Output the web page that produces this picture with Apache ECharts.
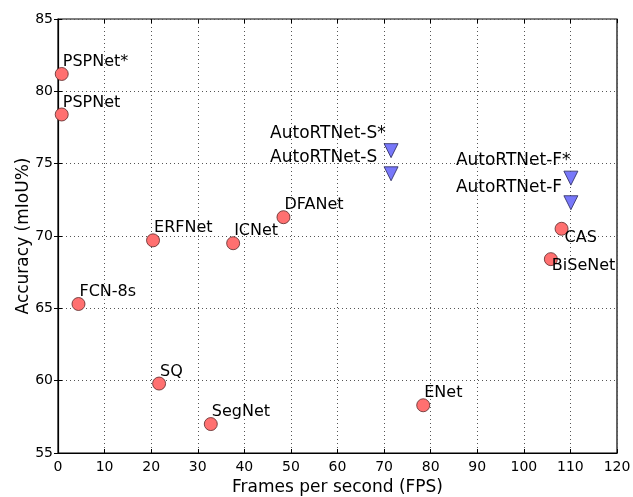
<!DOCTYPE html>
<html>
<head>
<meta charset="utf-8">
<script src="https://cdn.jsdelivr.net/npm/echarts@6/dist/echarts.min.js"></script>
<style>
  html, body { margin: 0; padding: 0; background: #fff; }
  #root { width: 633px; height: 497px; }
</style>
</head>
<body>
<div id="root"></div>
<script>
// other methods (circles)
const otherNames = ['PSPNet*', 'PSPNet', 'FCN-8s', 'ERFNet', 'ICNet', 'DFANet', 'SQ', 'SegNet', 'ENet', 'CAS', 'BiSeNet']
const otherFps = [0.8, 0.8, 4.4, 20.4, 37.6, 48.4, 21.7, 32.8, 78.4, 108.1, 105.8]
const otherMiou = [81.2, 78.4, 65.3, 69.7, 69.5, 71.3, 59.8, 57.0, 58.3, 70.5, 68.4]

// ours (triangles)
const autoNames = ['AutoRTNet-S*', 'AutoRTNet-S', 'AutoRTNet-F*', 'AutoRTNet-F']
const autoFps = [71.5, 71.5, 110.1, 110.1]
const autoMiou = [75.9, 74.3, 74.0, 72.3]

const xTicks = [0, 10, 20, 30, 40, 50, 60, 70, 80, 90, 100, 110, 120]
const yTicks = [55, 60, 65, 70, 75, 80, 85]

// where each label sits relative to its marker
const labelPlace = {
	'CAS': { align: 'left', verticalAlign: 'top', offset: [3, 1] },
	'BiSeNet': { align: 'left', verticalAlign: 'top', offset: [1, -1] },
	'AutoRTNet-S*': { align: 'left', verticalAlign: 'bottom', offset: [-121, -9] },
	'AutoRTNet-S': { align: 'left', verticalAlign: 'bottom', offset: [-121, -8] },
	'AutoRTNet-F*': { align: 'left', verticalAlign: 'bottom', offset: [-115, -9] },
	'AutoRTNet-F': { align: 'left', verticalAlign: 'bottom', offset: [-115, -7] }
}
const defaultPlace = { align: 'left', verticalAlign: 'bottom', offset: [1, -4] }

const FONT = 'DejaVu Sans'

const toPoints = (names, xs, ys) => names.map((name, i) => {
	const p = labelPlace[name] || defaultPlace
	return {
		name,
		value: [xs[i], ys[i]],
		label: {
			show: true,
			position: 'inside',
			formatter: name,
			align: p.align,
			verticalAlign: p.verticalAlign,
			offset: p.offset
		}
	}
})

const dotted = { color: '#555', type: [1, 3], width: 1 }
const labelStyle = size => ({ color: '#000', fontFamily: FONT, fontSize: size, textBorderWidth: 0, textShadowBlur: 0 })

const myChart = echarts.init(document.getElementById('root'), null, { renderer: 'canvas' })
const option = {
	animation: false,
	grid: {
		left: 58, right: 16, top: 19, bottom: 44,
		outerBoundsMode: 'none',
		show: true, borderColor: '#000', borderWidth: 1.2, backgroundColor: 'transparent'
	},
	xAxis: [
		{
			type: 'value', min: 0, max: 120, interval: 10,
			name: 'Frames per second (FPS)', nameLocation: 'middle', nameGap: 26,
			nameMoveOverlap: false,
			nameTextStyle: { color: '#000', fontFamily: FONT, fontSize: 17 },
			axisLine: { show: true, onZero: false, lineStyle: { color: '#000', width: 1.2 } },
			axisTick: { show: true, inside: true, length: 4, lineStyle: { color: '#000' } },
			axisLabel: { color: '#000', fontFamily: FONT, fontSize: 14, margin: 7,
				customValues: xTicks },
			splitLine: { show: true, lineStyle: dotted }
		},
		{
			type: 'value', min: 0, max: 120, interval: 10, position: 'top',
			axisLine: { show: false },
			axisTick: { show: true, inside: true, length: 4, lineStyle: { color: '#000' } },
			axisLabel: { show: false }, splitLine: { show: false }
		}
	],
	yAxis: [
		{
			type: 'value', min: 55, max: 85, interval: 5,
			name: 'Accuracy (mIoU%)', nameLocation: 'middle', nameGap: 26,
			nameMoveOverlap: false,
			nameTextStyle: { color: '#000', fontFamily: FONT, fontSize: 17 },
			axisLine: { show: true, onZero: false, lineStyle: { color: '#000', width: 1.2 } },
			axisTick: { show: true, inside: true, length: 4, lineStyle: { color: '#000' } },
			axisLabel: { color: '#000', fontFamily: FONT, fontSize: 14, margin: 5,
				customValues: yTicks },
			splitLine: { show: true, lineStyle: dotted }
		},
		{
			type: 'value', min: 55, max: 85, interval: 5, position: 'right',
			axisLine: { show: false },
			axisTick: { show: true, inside: true, length: 4, lineStyle: { color: '#000' } },
			axisLabel: { show: false }, splitLine: { show: false }
		}
	],
	series: [
		{
			type: 'scatter',
			name: 'others',
			symbol: 'circle',
			symbolSize: 13,
			itemStyle: { color: 'rgb(255,112,112)', borderColor: 'rgba(90,40,40,0.8)', borderWidth: 1, opacity: 1 },
			label: labelStyle(16),
			data: toPoints(otherNames, otherFps, otherMiou)
		},
		{
			type: 'scatter',
			name: 'ours',
			symbol: 'triangle',
			symbolRotate: 180,
			symbolSize: [14, 14],
			itemStyle: { color: 'rgb(120,120,250)', borderColor: 'rgba(40,40,90,0.8)', borderWidth: 1, opacity: 1 },
			label: labelStyle(17),
			data: toPoints(autoNames, autoFps, autoMiou)
		}
	]
}
if (option && typeof option === 'object') {
	myChart.setOption(option, true)
}
</script>
</body>
</html>
